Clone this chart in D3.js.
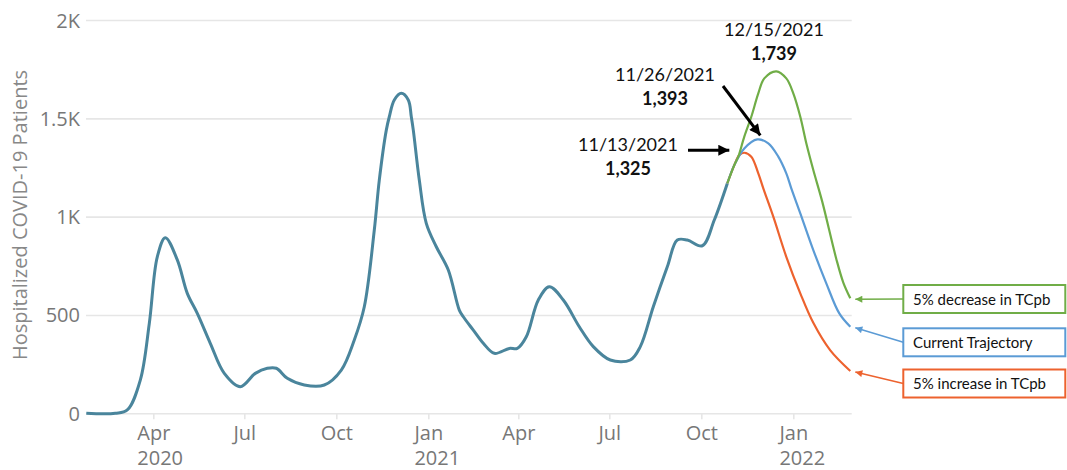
<!DOCTYPE html>
<html><head><meta charset="utf-8">
<script src="https://cdn.jsdelivr.net/npm/d3@7"></script>
<style>body{margin:0;background:#fff}svg{display:block}</style>
</head><body>
<svg id="c" width="1067" height="470"></svg>
<script>
// ---- data ----
const histDates = ["2020-01-25","2020-02-23","2020-03-06","2020-03-19","2020-03-28","2020-04-05","2020-04-13","2020-04-25","2020-05-05","2020-05-15","2020-05-28","2020-06-11","2020-06-27","2020-07-12","2020-07-24","2020-08-02","2020-08-13","2020-08-30","2020-09-19","2020-10-06","2020-10-19","2020-10-29","2020-11-08","2020-11-13","2020-11-20","2020-11-23","2020-11-28","2020-12-05","2020-12-12","2020-12-15","2020-12-17","2020-12-23","2020-12-30","2021-01-09","2021-01-21","2021-02-01","2021-02-05","2021-02-15","2021-02-25","2021-03-08","2021-03-23","2021-03-31","2021-04-09","2021-04-21","2021-05-02","2021-05-16","2021-06-01","2021-06-15","2021-07-02","2021-07-22","2021-08-01","2021-08-14","2021-08-28","2021-09-07","2021-09-17","2021-10-02","2021-10-14","2021-10-27"];
const histValues = [0,0,17,169,457,796,893,780,610,508,356,203,135,203,229,229,178,144,144,220,373,542,932,1186,1440,1508,1593,1627,1593,1508,1440,1186,966,847,729,525,491,423,356,305,330,330,389,576,644,576,440,339,271,271,339,542,745,881,881,852,983,1169];

const incDates = ["2021-10-27","2021-11-03","2021-11-08","2021-11-13","2021-11-20","2021-11-27","2021-12-02","2021-12-12","2021-12-25","2022-01-08","2022-01-21","2022-02-07","2022-02-27"];
const incValues = [1169,1262,1313,1325,1305,1220,1144,1000,796,610,460,320,215];

const curDates = ["2021-10-27","2021-11-03","2021-11-13","2021-11-26","2021-12-07","2021-12-17","2021-12-25","2021-12-30","2022-01-08","2022-01-21","2022-02-03","2022-02-16","2022-02-27"];
const curValues = [1169,1262,1347,1393,1373,1305,1220,1144,1017,830,661,508,440];

const decDates = ["2021-10-27","2021-11-03","2021-11-07","2021-11-13","2021-11-20","2021-11-27","2021-12-03","2021-12-15","2021-12-25","2022-01-01","2022-01-08","2022-01-14","2022-01-21","2022-01-30","2022-02-13","2022-02-20","2022-02-27"];
const decValues = [1169,1262,1305,1407,1508,1627,1703,1739,1703,1627,1508,1373,1237,1075,785,665,585];

const yTickValues = [0,500,1000,1500,2000];
const yTickLabels = ["0","500","1K","1.5K","2K"];
const xTickDates = ["2020-04-01","2020-07-01","2020-10-01","2021-01-01","2021-04-01","2021-07-01","2021-10-01","2022-01-01"];
const xTickMonths = ["Apr","Jul","Oct","Jan","Apr","Jul","Oct","Jan"];
const xTickYears = ["2020","","","2021","","","","2022"];

const annDates = ["2021-11-13","2021-11-26","2021-12-15"];
const annValues = [1325,1393,1739];

const legendLabels = ["5% decrease in TCpb","Current Trajectory","5% increase in TCpb"];
const yTitle = "Hospitalized COVID-19 Patients";

// ---- layout ----
const P = d3.utcParse("%Y-%m-%d");
const svg = d3.select("#c");
const x = d3.scaleUtc().domain([P("2020-01-25"), P("2022-02-28")]).range([86.3, 851.3]);
const y = d3.scaleLinear().domain([0, 2000]).range([413.3, 20]);
const axisColor = "#777";
const gridColor = "#e6e6e6";

// y axis + gridlines
const gy = svg.append("g").attr("transform","translate(86,0)")
  .call(d3.axisLeft(y).tickValues(yTickValues).tickSize(-(851.7-86)).tickPadding(6)
    .tickFormat((d,i)=>yTickLabels[i]));
gy.select(".domain").remove();
gy.selectAll(".tick line").attr("stroke",gridColor).attr("stroke-width",1.6);
gy.selectAll(".tick text").attr("fill",axisColor).attr("font-family","'Open Sans'").attr("font-size",20).attr("dy","0.35em");

// x axis
const gx = svg.append("g").attr("transform","translate(0,413.3)")
  .call(d3.axisBottom(x).tickValues(xTickDates.map(P)).tickSize(6).tickFormat(""));
gx.select(".domain").remove();
gx.selectAll(".tick line").attr("stroke",gridColor).attr("stroke-width",1.6);
gx.selectAll(".tick").each(function(d,i){
  const g = d3.select(this);
  const m = g.append("text").attr("text-anchor","middle").attr("y",26.7)
    .attr("fill",axisColor).attr("font-family","'Open Sans'").attr("font-size",20).text(xTickMonths[i]);
  if (xTickYears[i]) {
    const w = m.node().getComputedTextLength();
    g.append("text").attr("text-anchor","start").attr("x",-w/2).attr("y",51.7)
      .attr("fill",axisColor).attr("font-family","'Open Sans'").attr("font-size",20).text(xTickYears[i]);
  }
});

// y title
svg.append("text").attr("transform","translate(27,215) rotate(-90)").attr("text-anchor","middle")
  .attr("fill","#888").attr("font-family","'Open Sans'").attr("font-size",20).text(yTitle);

// lines
const line = d3.line().x(d=>x(d[0])).y(d=>y(d[1])).curve(d3.curveCatmullRom.alpha(0.5));
const zipS = (ds,vs)=>ds.map((d,i)=>[P(d),vs[i]]);
const cInc = "#ED622E", cCur = "#5B9BD5", cDec = "#70AD47", cHist = "#4A859C";
svg.append("path").datum(zipS(histDates,histValues)).attr("d",line).attr("fill","none").attr("stroke",cHist).attr("stroke-width",3);
svg.append("path").datum(zipS(incDates,incValues)).attr("d",line).attr("fill","none").attr("stroke",cInc).attr("stroke-width",2.2);
svg.append("path").datum(zipS(curDates,curValues)).attr("d",line).attr("fill","none").attr("stroke",cCur).attr("stroke-width",2.2);
svg.append("path").datum(zipS(decDates,decValues)).attr("d",line).attr("fill","none").attr("stroke",cDec).attr("stroke-width",2.2);

// markers
const defs = svg.append("defs");
function marker(id, color, w, h){
  defs.append("marker").attr("id",id).attr("viewBox","0 0 10 10").attr("refX",10).attr("refY",5)
    .attr("markerWidth",w).attr("markerHeight",h).attr("markerUnits","userSpaceOnUse").attr("orient","auto")
    .append("path").attr("d","M0,0L10,5L0,10Z").attr("fill",color);
}
marker("mk","#000",12,11);
marker("mg",cDec,8,7); marker("mb",cCur,8,7); marker("mo",cInc,8,7);

// annotations
const fmt = d3.format(",");
const annFont = "Lato";
const annPos = [[628,151],[665,81],[774,36]];
annDates.forEach((d,i)=>{
  svg.append("text").attr("x",annPos[i][0]).attr("y",annPos[i][1]).attr("text-anchor","middle")
    .attr("font-family",annFont).attr("font-size",18).attr("fill","#111").text(d3.utcFormat("%m/%d/%Y")(P(d)));
  svg.append("text").attr("x",annPos[i][0]).attr("y",annPos[i][1]+23.5).attr("text-anchor","middle")
    .attr("font-family",annFont).attr("font-weight","bold").attr("font-size",18).attr("fill","#111").text(fmt(annValues[i]));
});
// black arrows
svg.append("line").attr("x1",688).attr("y1",y(annValues[0])-2.5).attr("x2",x(P(annDates[0]))-15).attr("y2",y(annValues[0])-2.5)
  .attr("stroke","#000").attr("stroke-width",3).attr("marker-end","url(#mk)");
svg.append("line").attr("x1",723).attr("y1",86).attr("x2",x(P(annDates[1]))+3).attr("y2",y(annValues[1])-4)
  .attr("stroke","#000").attr("stroke-width",3).attr("marker-end","url(#mk)");

// legend boxes
const lastVals = [decValues[decValues.length-1], curValues[curValues.length-1], incValues[incValues.length-1]];
const lastDate = P(decDates[decDates.length-1]);
const lColors = [cDec,cCur,cInc], lMk = ["mg","mb","mo"];
const boxTop = [285,328.3,369.5], boxH = 28;
legendLabels.forEach((t,i)=>{
  svg.append("rect").attr("x",903.3).attr("y",boxTop[i]).attr("width",162).attr("height",boxH)
    .attr("fill","#fff").attr("stroke",lColors[i]).attr("stroke-width",2);
  svg.append("text").attr("x",913).attr("y",boxTop[i]+boxH/2+5.5).attr("font-family",annFont).attr("font-size",15)
    .attr("fill","#111").text(t);
  svg.append("line").attr("x1",903.3).attr("y1",boxTop[i]+boxH/2).attr("x2",x(lastDate)+5).attr("y2",y(lastVals[i])+1)
    .attr("stroke",lColors[i]).attr("stroke-width",1.5).attr("marker-end",`url(#${lMk[i]})`);
});
</script>
</body></html>
